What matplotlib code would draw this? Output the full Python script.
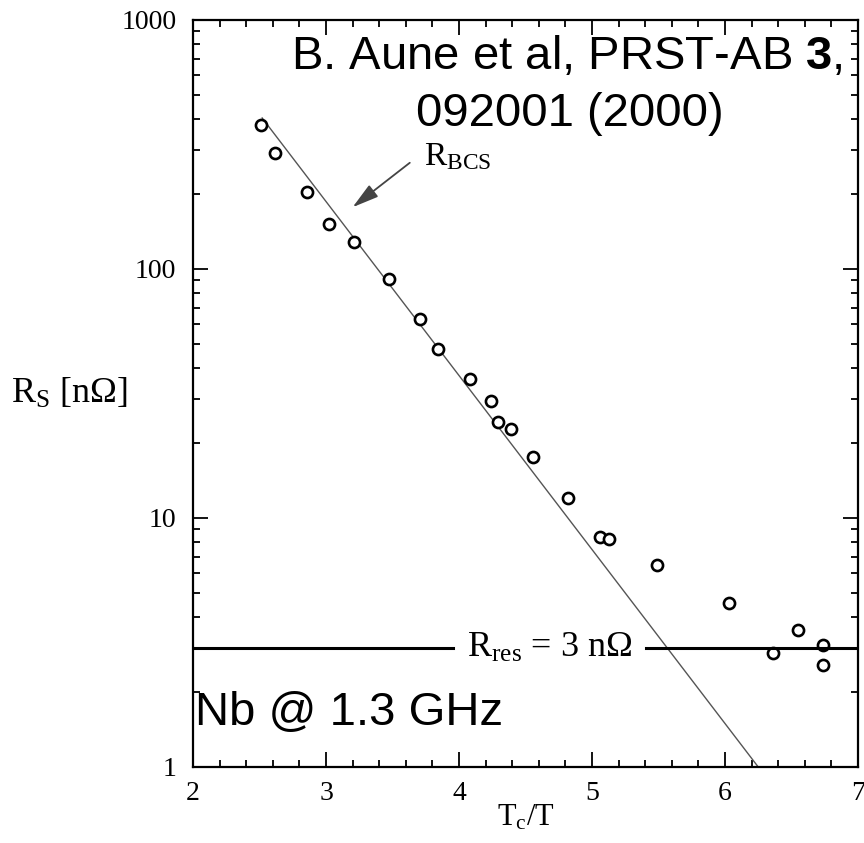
import matplotlib.pyplot as plt
import numpy as np

tc_over_t = [2.51, 2.62, 2.86, 3.02, 3.21, 3.47, 3.71, 3.84, 4.08, 4.24, 4.29,
             4.39, 4.56, 4.82, 5.06, 5.13, 5.49, 6.03, 6.36, 6.55, 6.74, 6.74]
rs = [378, 293, 204, 152, 128, 91, 63, 47.8, 36.2, 29.5, 24.3,
      22.7, 17.6, 12.0, 8.4, 8.2, 6.5, 4.56, 2.87, 3.55, 3.09, 2.57]

# BCS fit line end points
bcs_x = [2.52, 6.25]
bcs_y = [404, 1.0]

r_res = 3.0

serif = 'Liberation Serif'
sans = 'Liberation Sans'

plt.rcParams['mathtext.fontset'] = 'custom'
plt.rcParams['mathtext.rm'] = serif
plt.rcParams['mathtext.it'] = serif + ':italic'
plt.rcParams['mathtext.bf'] = sans + ':bold'

fig = plt.figure(figsize=(8.64, 8.43), dpi=100)
ax = fig.add_axes([0.2234, 0.0902, 0.7696, 0.8861])

ax.plot(bcs_x, bcs_y, color='#555555', lw=1.0)
ax.plot(tc_over_t, rs, 'o', mfc='white', mec='black', mew=1.9, ms=8)

# residual resistance line, broken around its label
ax.plot([2.0, 3.955], [r_res, r_res], color='black', lw=2.2)
ax.plot([5.406, 7.0], [r_res, r_res], color='black', lw=2.2)
ax.text(4.68, r_res, r'R$_{\rm res}$ = 3 nΩ', ha='center', va='center',
        fontsize=26, family=serif)

ax.annotate('', xy=(3.2, 177), xytext=(3.63, 267),
            arrowprops=dict(arrowstyle='-|>,head_width=0.25,head_length=0.9',
                            color='#444444', lw=1.3, shrinkA=0, shrinkB=0,
                            mutation_scale=18))
ax.text(3.74, 262, 'R$_{\\rm BCS}$', fontsize=24, family=serif, va='baseline')

ax.text(6.89, 636, 'B. Aune et al, PRST-AB $\\mathbf{3}$,', ha='right',
        va='baseline', fontsize=34, family=sans)
ax.text(4.835, 375, '092001 (2000)', ha='center', va='baseline',
        fontsize=34, family=sans)
ax.text(2.015, 1.475, 'Nb @ 1.3 GHz', ha='left', va='baseline',
        fontsize=34, family=sans)

ax.set_yscale('log')
ax.set_xlim(2, 7)
ax.set_ylim(1, 1000)
ax.set_xticks([2, 3, 4, 5, 6, 7])
ax.set_xticks(np.arange(2, 7.01, 0.2), minor=True)
ax.set_yticks([1, 10, 100, 1000])
ax.set_yticklabels(['1', '10', '100', '1000'])
ax.tick_params(which='both', direction='in', top=True, right=True,
               labelsize=20, width=1.3)
ax.tick_params(which='major', length=11)
ax.tick_params(which='minor', length=5)
ax.tick_params(axis='x', pad=10)
ax.tick_params(axis='y', pad=12)
for lab in ax.get_xticklabels() + ax.get_yticklabels():
    lab.set_family(serif)
for s in ax.spines.values():
    s.set_linewidth(1.6)

ax.set_xlabel('T$_{\\rm c}$/T', fontsize=22, family=serif, va='baseline')
ax.xaxis.set_label_coords(0.5, -0.078)
ax.set_ylabel('R$_{\\rm S}$ [nΩ]', fontsize=26, family=serif,
              rotation=0, ha='right', va='center')
ax.yaxis.set_label_coords(-0.098, 0.5)

fig.savefig('out.png', dpi=100)
